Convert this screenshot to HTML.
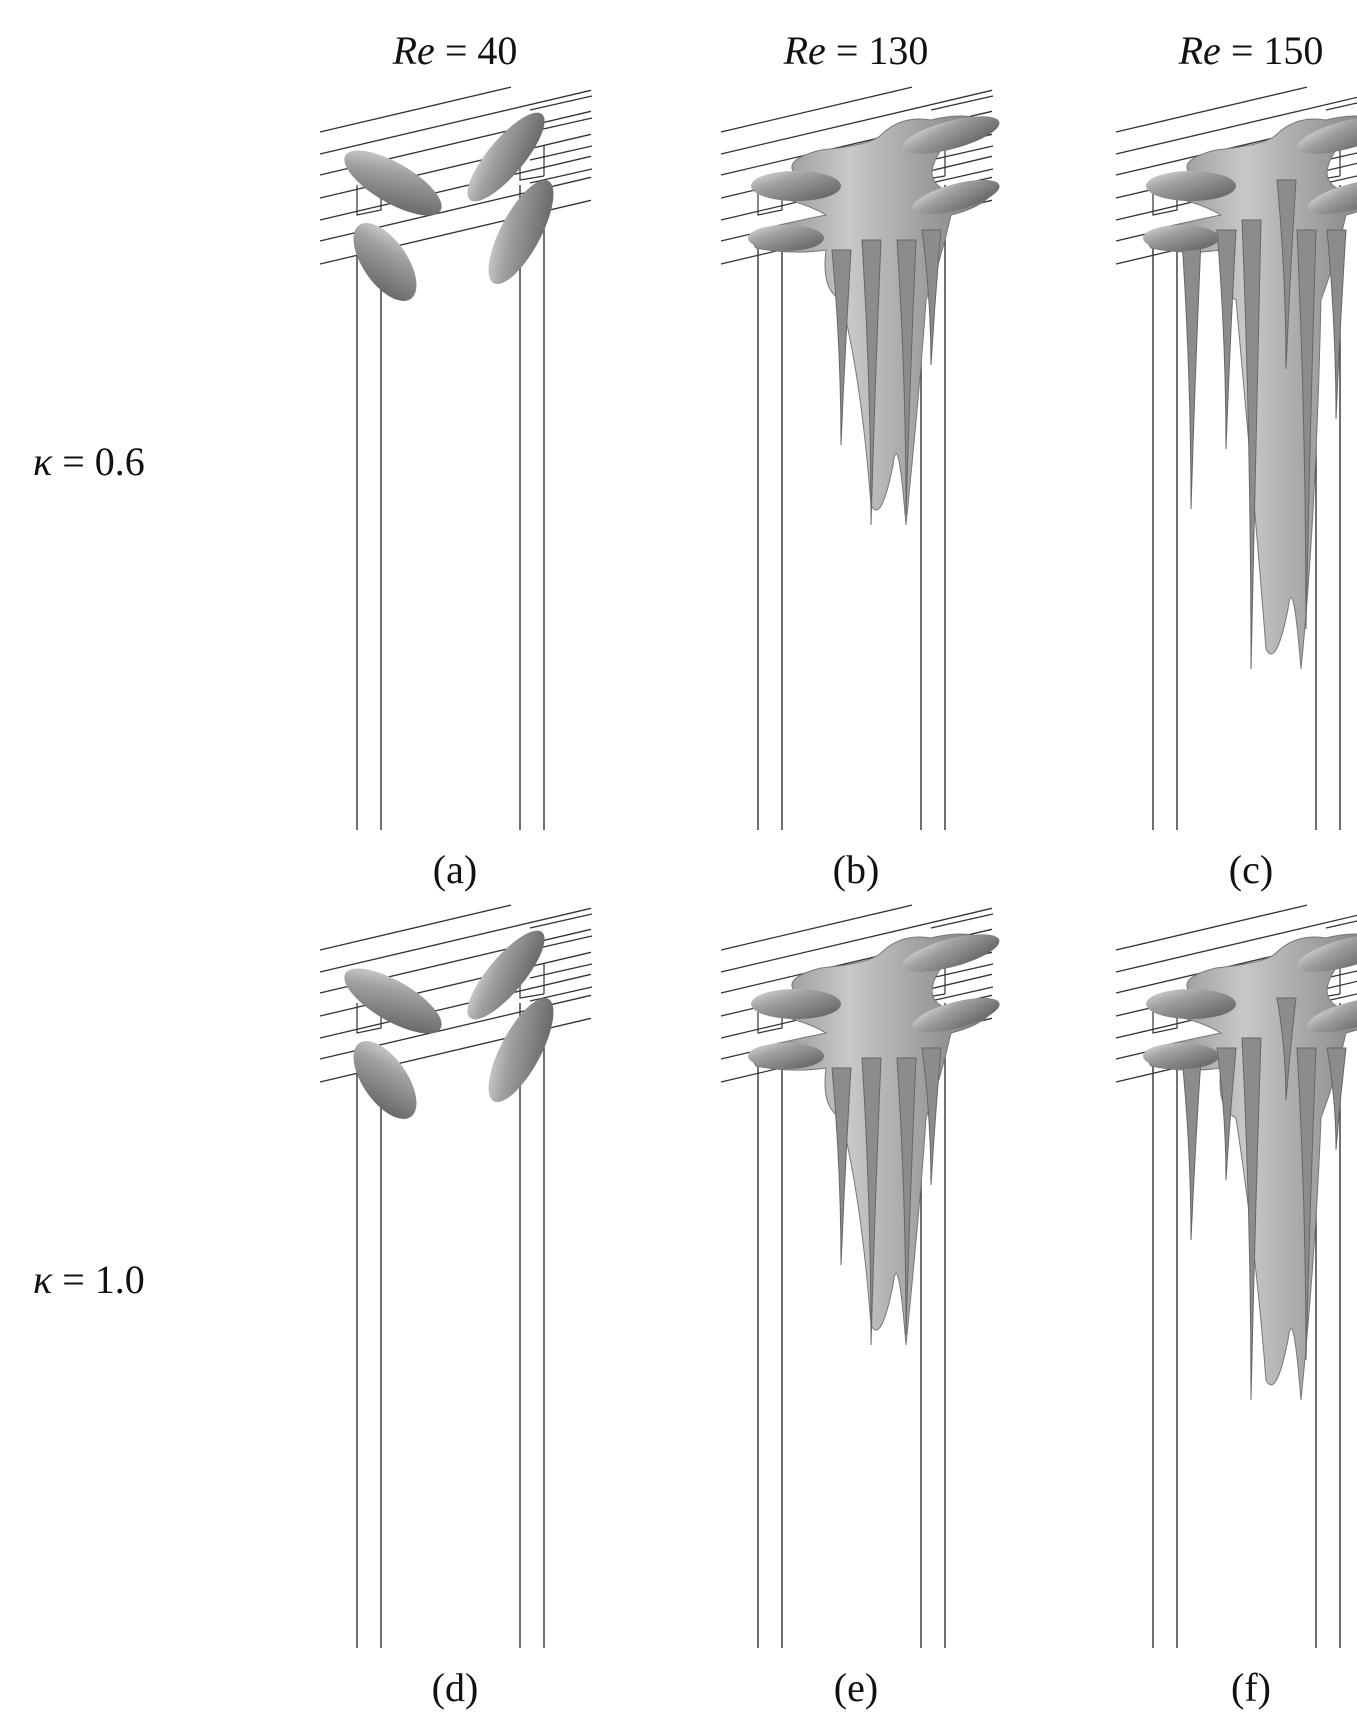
<!DOCTYPE html>
<html><head><meta charset="utf-8"><style>
body{margin:0;background:#fff;width:1357px;height:1718px;overflow:hidden}
svg{display:block}
text{font-family:"Liberation Serif",serif;fill:#111}
</style></head><body>
<svg id="fig" width="1357" height="1718" viewBox="0 0 1357 1718">
<defs>
<linearGradient id="g" x1="0" y1="0" x2="1" y2="1"><stop offset="0" stop-color="#e0e0e0"/><stop offset="0.35" stop-color="#a0a0a0"/><stop offset="1" stop-color="#5a5a5a"/></linearGradient>
<linearGradient id="gv" x1="0" y1="0" x2="1" y2="0"><stop offset="0" stop-color="#888"/><stop offset="0.4" stop-color="#c8c8c8"/><stop offset="1" stop-color="#777"/></linearGradient>
</defs>
</svg>
<script>
const colLabels=["40","130","150"];
const panelLetters=["(a)","(b)","(c)","(d)","(e)","(f)"];
const rowLabels=["0.6","1.0"];
const colX=[0,401,796];
const rowY=[0,818];
const tailDepth=[[0,525,669],[0,527,582]];
const NS="http://www.w3.org/2000/svg";
const svg=document.getElementById('fig');
function mk(tag,attrs,parent){const e=document.createElementNS(NS,tag);for(const k in attrs)e.setAttribute(k,attrs[k]);(parent||svg).appendChild(e);return e;}
colLabels.forEach((v,i)=>{
 const t=mk('text',{x:455+colX[i],y:64,'font-size':40,'text-anchor':'middle'});
 
 
 t.innerHTML='<tspan font-style="italic">Re</tspan> = '+v;
});
rowLabels.forEach((v,r)=>{
 const t=mk('text',{x:33,y:475+rowY[r],'font-size':40});
 
 
 t.innerHTML='<tspan font-style="italic">κ</tspan> = '+v;
});
for(let r=0;r<2;r++)for(let c=0;c<3;c++){
 const g=mk('g',{transform:`translate(${colX[c]},${rowY[r]})`});
 
 
 const ly=[132,154,175,198,220,241,264];
 ly.forEach((y,i)=>{const x2=i==0?511:591;mk('line',{x1:320,y1:y,x2:x2,y2:y-0.235*(x2-320),stroke:'#333','stroke-width':1.3},g);});
 [110,132,160,183].forEach(y=>mk('line',{x1:530,y1:y,x2:592,y2:y-14,stroke:'#333','stroke-width':1.3},g));
 mk('path',{d:'M357 185 L357 215 L381 210 L381 180 M520 150 L520 180 L544 176 M544 146 L544 176',fill:'none',stroke:'#333','stroke-width':1.2},g);
 [357,381,520,544].forEach(x=>mk('line',{x1:x,y1:x<500?235:185,x2:x,y2:830,stroke:'#333','stroke-width':1.4},g));
 if(c==0){
  mk('ellipse',{cx:393,cy:183,rx:55,ry:20,transform:'rotate(30 393 183)',fill:'url(#g)'},g);
  mk('ellipse',{cx:385,cy:262,rx:45,ry:22,transform:'rotate(55 385 262)',fill:'url(#g)'},g);
  mk('ellipse',{cx:506,cy:157,rx:56,ry:18,transform:'rotate(-50 506 157)',fill:'url(#g)'},g);
  mk('ellipse',{cx:521,cy:232,rx:58,ry:20,transform:'rotate(-62 521 232)',fill:'url(#g)'},g);
 } else {
  const d=tailDepth[r][c];
  mk('path',{d:`M395 175 Q380 160 420 150 Q470 145 480 135 Q500 115 530 120 Q570 110 590 125 Q585 140 540 150 Q520 180 545 190 Q580 175 595 185 Q590 205 550 215 Q540 260 525 300 Q520 ${d-150} 505 ${d} Q497 ${d-100} 492 ${d-60} Q480 ${d} 470 ${d-20} Q460 ${d-150} 440 300 Q420 290 425 250 Q390 255 355 248 Q345 235 365 228 Q400 220 425 215 Q400 200 360 195 Q340 180 395 175 Z`,fill:'url(#gv)',stroke:'#777','stroke-width':1},g);
  const tails=c==2?[[395,240,d-160],[430,230,d-220],[455,220,d],[510,230,d-40],[540,230,d-250],[490,180,d-300]]:[[440,250,d-80],[470,240,d],[505,240,d-10],[530,230,d-160]];
  tails.forEach(t=>mk('path',{d:`M${t[0]-9} ${t[1]} Q${t[0]} ${(t[1]+t[2])/2} ${t[0]} ${t[2]} Q${t[0]+4} ${(t[1]+t[2])/2} ${t[0]+10} ${t[1]} Z`,fill:'#8c8c8c',stroke:'#666','stroke-width':1},g));
  mk('ellipse',{cx:395,cy:186,rx:45,ry:15,fill:'url(#g)'},g);
  mk('ellipse',{cx:385,cy:238,rx:38,ry:13,fill:'url(#g)'},g);
  mk('ellipse',{cx:550,cy:135,rx:50,ry:14,transform:'rotate(-15 550 135)',fill:'url(#g)'},g);
  mk('ellipse',{cx:555,cy:197,rx:45,ry:13,transform:'rotate(-15 555 197)',fill:'url(#g)'},g);
 }
 const lt=mk('text',{x:455,y:883,'font-size':40,'text-anchor':'middle'},g);
 
 
 lt.textContent=panelLetters[r*3+c];
}
</script>
</body></html>
